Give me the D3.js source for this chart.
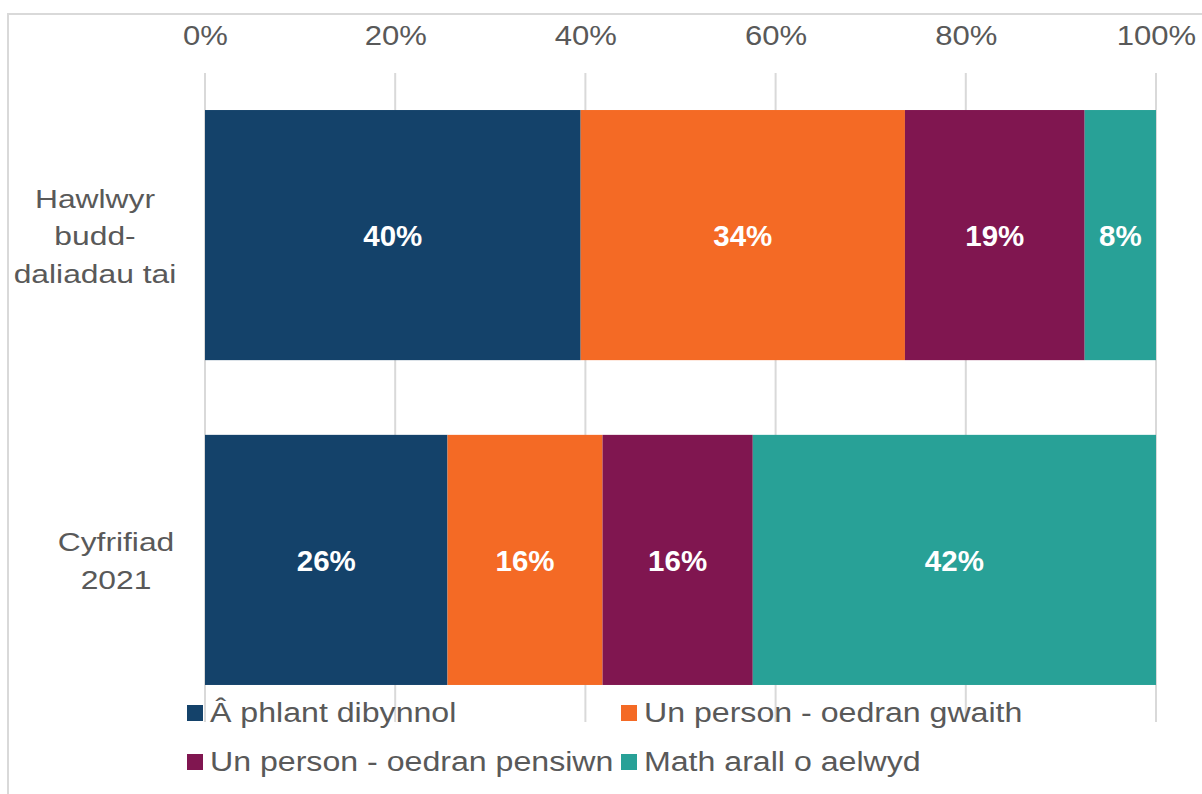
<!DOCTYPE html>
<html><head><meta charset="utf-8">
<script src="https://cdn.jsdelivr.net/npm/d3@7"></script>
<style>
html,body{margin:0;padding:0;background:#fff;}
text{font-family:"Liberation Sans",Arial,sans-serif;}
</style></head>
<body>
<svg id="chart" width="1202" height="794"></svg>
<script>
const categories = [["Hawlwyr","budd-","daliadau tai"],["Cyfrifiad","2021"]];
const categoryKeys = ["Hawlwyr budd-daliadau tai","Cyfrifiad 2021"];
const seriesNames = ["Â phlant dibynnol","Un person - oedran gwaith","Un person - oedran pensiwn","Math arall o aelwyd"];
const seriesA = [39.5, 25.5]; // Â phlant dibynnol
const seriesB = [34.1, 16.3]; // Un person - oedran gwaith
const seriesC = [18.9, 15.8]; // Un person - oedran pensiwn
const seriesD = [7.5, 42.4];  // Math arall o aelwyd
const tickValues = [0,20,40,60,80,100];
const colors = ["#14426A","#F46A25","#801650","#28A197"];

const svg = d3.select("#chart");
const textColor = "#595959";
const SX_AXIS = 1.15, SX_CAT = 1.2, SX_LEG = 1.19; // horizontal stretch of the reference's text rendering

// outer border
svg.append("rect").attr("x",8).attr("y",14).attr("width",1210).attr("height",800)
  .attr("fill","none").attr("stroke","#d9d9d9").attr("stroke-width",2);

const x = d3.scaleLinear().domain([0,100]).range([205,1156]);
const y = d3.scaleBand().domain(categoryKeys).range([73,722]).paddingInner(0.23).paddingOuter(0.114);

// gridlines
svg.append("g").selectAll("line").data(tickValues).join("line")
  .attr("x1",d=>x(d)).attr("x2",d=>x(d)).attr("y1",73).attr("y2",722)
  .attr("stroke","#d9d9d9").attr("stroke-width",2);

// top axis labels
const axis = d3.axisTop(x).tickValues(tickValues).tickFormat(d=>d+"%").tickSize(0).tickPadding(0);
const ag = svg.append("g").attr("transform","translate(0,45)").call(axis);
ag.select(".domain").remove();
ag.selectAll("text").attr("font-size",27).attr("fill",textColor)
  .attr("font-family","Liberation Sans, Arial, sans-serif").attr("dy",0)
  .attr("transform",`scale(${SX_AXIS},1)`);

// stacked data
const rows = categoryKeys.map((k,i)=>({key:k, v:[seriesA[i],seriesB[i],seriesC[i],seriesD[i]]}));
const segs = [];
rows.forEach(r=>{
  let acc=0;
  r.v.forEach((v,j)=>{ segs.push({key:r.key,j,x0:acc,x1:acc+v,v}); acc+=v; });
});

svg.append("g").selectAll("rect").data(segs).join("rect")
  .attr("x",d=>x(d.x0)).attr("width",d=>x(d.x1)-x(d.x0))
  .attr("y",d=>y(d.key)).attr("height",y.bandwidth())
  .attr("fill",d=>colors[d.j]);

svg.append("g").selectAll("text").data(segs).join("text")
  .attr("x",d=>(x(d.x0)+x(d.x1))/2)
  .attr("y",d=>y(d.key)+y.bandwidth()/2)
  .attr("dy","0.36em").attr("text-anchor","middle")
  .attr("font-size",29.5).attr("font-weight","bold").attr("fill","#fff")
  .text(d=>Math.round(d.v)+"%");

// category labels
const lh = 37.5;
const catCenters = [95, 116];
categoryKeys.forEach((k,i)=>{
  const lines = categories[i];
  const cy = y(k)+y.bandwidth()/2 + 1;
  lines.forEach((ln,li)=>{
    svg.append("text")
      .attr("transform",`translate(${catCenters[i]},${cy+(li-(lines.length-1)/2)*lh}) scale(${SX_CAT},1)`)
      .attr("text-anchor","middle").attr("dy","0.35em")
      .attr("font-size",26.5).attr("fill",textColor).text(ln);
  });
});

// legend
const legPos = [[187,722],[621,722],[187,771],[621,771]];
const lg = svg.append("g").selectAll("g").data(seriesNames).join("g")
  .attr("transform",(d,i)=>`translate(${legPos[i][0]},${legPos[i][1]})`);
lg.append("rect").attr("x",0).attr("y",-17).attr("width",16).attr("height",16).attr("fill",(d,i)=>colors[i]);
lg.append("text").attr("transform",`translate(23,0) scale(${SX_LEG},1)`)
  .attr("font-size",27).attr("fill",textColor).text(d=>d);
</script>
</body></html>
